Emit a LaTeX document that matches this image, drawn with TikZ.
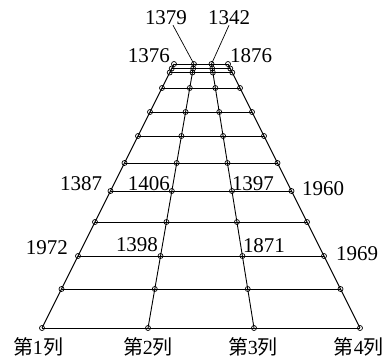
\documentclass[tikz,border=0pt]{standalone}
\usepackage{fontspec}
\setmainfont{Liberation Serif}
\newfontfamily\cjk{Noto Sans CJK SC}
\begin{document}
\begin{tikzpicture}[x=1pt,y=-1pt,
  gridline/.style={line width=0.9pt},
  leader/.style={line width=0.7pt},
  dot/.style={circle,draw,line width=0.7pt,inner sep=0pt,minimum size=5pt},
  num/.style={inner sep=0pt,font=\fontsize{21}{21}\selectfont},
  collabel/.style={inner sep=0pt,font=\fontsize{20}{20}\selectfont}]
\useasboundingbox (0,0) rectangle (392,364);
% grid points
\foreach \y [count=\r] in {328,289,256,222,191,163,136,112,88,72.5,68.5,64}{
  \pgfmathsetmacro{\d}{328-\y}
  \coordinate (p\r-1) at ({42+0.5*\d},\y);
  \coordinate (p\r-2) at ({148+0.174*\d},\y);
  \coordinate (p\r-3) at ({254-0.161*\d},\y);
  \coordinate (p\r-4) at ({360-0.5*\d},\y);
}
% column lines
\foreach \c in {1,2,3,4}{
  \draw[gridline] (p1-\c) -- (p12-\c);
}
% row lines
\foreach \r in {1,...,12}{
  \draw[gridline] (p\r-1) -- (p\r-4);
}
% dots
\foreach \r in {1,...,12}{
  \foreach \c in {1,2,3,4}{
    \node[dot] (d\r-\c) at (p\r-\c) {};
  }
}
% labels
\node[num] (l1379) at (166,18) {1379};
\node[num] (l1342) at (229,18) {1342};
\draw[leader] ([xshift=7pt]l1379.south) -- (p12-2);
\draw[leader] (l1342.south) -- (p12-3);
\node[num] (l1376) at (149,56) {1376};
\node[num] (l1876) at (251,56) {1876};
\node[num] (l1387) at (81,184) {1387};
\node[num] (l1406) at (149,184) {1406};
\node[num] (l1397) at (253,184) {1397};
\node[num] (l1960) at (323,189) {1960};
\node[num] (l1972) at (47,248) {1972};
\node[num] (l1398) at (137,245) {1398};
\node[num] (l1871) at (264,246) {1871};
\node[num] (l1969) at (357,254) {1969};
% column labels
\node[collabel] (c1) at (38,347) {{\cjk 第}1{\cjk 列}};
\node[collabel] (c2) at (148,347) {{\cjk 第}2{\cjk 列}};
\node[collabel] (c3) at (253,347) {{\cjk 第}3{\cjk 列}};
\node[collabel] (c4) at (359,347) {{\cjk 第}4{\cjk 列}};
\end{tikzpicture}
\end{document}
